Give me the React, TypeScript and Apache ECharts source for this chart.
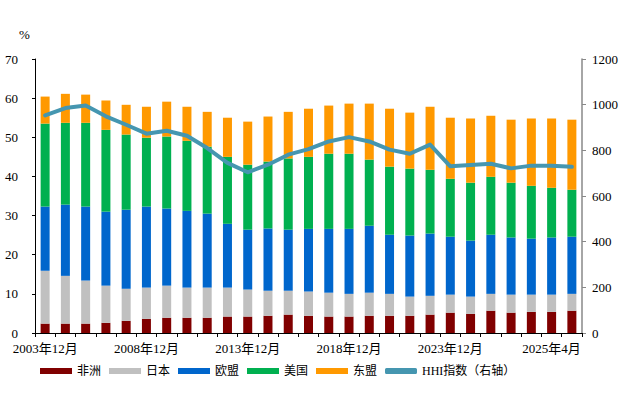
import React, { useEffect, useRef } from "react";
import * as echarts from "echarts";

const categories = [
  "2003年12月", "2004年12月", "2005年12月", "2006年12月", "2007年12月",
  "2008年12月", "2009年12月", "2010年12月", "2011年12月", "2012年12月",
  "2013年12月", "2014年12月", "2015年12月", "2016年12月", "2017年12月",
  "2018年12月", "2019年12月", "2020年12月", "2021年12月", "2022年12月",
  "2023年12月", "2024年12月", "2025年1月", "2025年2月", "2025年3月",
  "2025年4月", "2025年5月",
];

const africa = [2.4, 2.4, 2.4, 2.6, 3.1, 3.6, 3.9, 3.9, 3.9, 4.2, 4.2, 4.4, 4.7, 4.4, 4.2, 4.2, 4.4, 4.4, 4.4, 4.7, 5.2, 4.9, 5.7, 5.2, 5.4, 5.4, 5.7];
const japan = [13.5, 12.2, 11.0, 9.5, 8.2, 8.0, 8.2, 7.7, 7.7, 7.4, 6.9, 6.4, 6.1, 6.2, 6.1, 5.8, 5.9, 5.6, 4.9, 4.8, 4.6, 4.4, 4.3, 4.6, 4.4, 4.4, 4.3];
const eu = [16.4, 18.2, 18.9, 18.9, 20.2, 20.7, 19.7, 19.6, 18.9, 16.3, 15.3, 15.9, 15.6, 16.0, 16.3, 16.6, 17.1, 15.1, 15.6, 15.9, 14.8, 14.3, 15.1, 14.6, 14.3, 14.6, 14.6];
const usa = [21.2, 20.9, 21.4, 20.9, 19.2, 17.6, 18.4, 17.9, 17.1, 17.1, 16.6, 17.1, 18.2, 18.4, 19.2, 19.2, 16.9, 17.4, 17.1, 16.3, 14.8, 14.8, 14.8, 14.0, 13.5, 12.7, 12.0];
const asean = [6.9, 7.4, 7.2, 7.5, 7.6, 7.9, 8.9, 8.7, 8.9, 10.0, 11.0, 11.5, 11.9, 12.3, 12.3, 12.8, 14.3, 14.8, 14.3, 16.1, 15.6, 16.4, 15.6, 16.1, 17.2, 17.7, 17.9];
const hhi = [953, 985, 996, 949, 912, 873, 886, 864, 810, 745, 704, 737, 781, 805, 839, 858, 839, 803, 785, 825, 730, 736, 741, 721, 733, 733, 728];

const leftTicks = [0, 10, 20, 30, 40, 50, 60, 70];
const rightTicks = [0, 200, 400, 600, 800, 1000, 1200];

const FONT = "'Liberation Serif', 'Times New Roman', 'Noto Sans CJK SC', serif";

export default function App() {
  const ref = useRef<HTMLDivElement>(null);
  useEffect(() => {
    if (!ref.current) return;
    const chart = echarts.init(ref.current, null, { renderer: "svg" });
    const barCommon = { type: "bar", stack: "total", barWidth: 9, yAxisIndex: 0 };
    chart.setOption({
      animation: false,
      backgroundColor: "#ffffff",
      textStyle: { fontFamily: FONT },
      grid: { left: 35, right: 42, top: 59, bottom: 65, containLabel: false },
      graphic: [
        { type: "text", left: 19, top: 28, style: { text: "%", fontSize: 13, fontFamily: FONT, fill: "#000" } },
      ],
      legend: {
        bottom: 16,
        left: 35,
        itemWidth: 32,
        itemHeight: 6,
        itemGap: 8,
        textStyle: { fontSize: 12, color: "#000", fontFamily: FONT },
        data: [
          { name: "非洲", icon: "rect" },
          { name: "日本", icon: "rect" },
          { name: "欧盟", icon: "rect" },
          { name: "美国", icon: "rect" },
          { name: "东盟", icon: "rect" },
          { name: "HHI指数（右轴）", icon: "roundRect" },
        ],
      },
      xAxis: {
        type: "category",
        data: categories,
        boundaryGap: true,
        axisLine: { lineStyle: { color: "#000", width: 1 } },
        axisTick: { show: true, interval: 0, length: 4, lineStyle: { color: "#000" } },
        axisLabel: { interval: 4, color: "#000", fontSize: 13, margin: 9, fontFamily: FONT },
      },
      yAxis: [
        {
          type: "value",
          min: leftTicks[0],
          max: leftTicks[leftTicks.length - 1],
          interval: 10,
          splitLine: { show: false },
          axisLine: { show: true, lineStyle: { color: "#000" } },
          axisTick: { show: true, length: 3, lineStyle: { color: "#000" } },
          axisLabel: { color: "#000", fontSize: 13, margin: 17, fontFamily: FONT },
        },
        {
          type: "value",
          min: rightTicks[0],
          max: rightTicks[rightTicks.length - 1],
          interval: 200,
          position: "right",
          splitLine: { show: false },
          axisLine: { show: true, lineStyle: { color: "#888", width: 1.5 } },
          axisTick: { show: true, length: 4, lineStyle: { color: "#888" } },
          axisLabel: {
            color: "#000",
            fontSize: 13,
            margin: 10,
            fontFamily: FONT,
            formatter: (v: number) => String(v),
          },
        },
      ],
      series: [
        { ...barCommon, name: "非洲", data: africa, itemStyle: { color: "#800000" } },
        { ...barCommon, name: "日本", data: japan, itemStyle: { color: "#c0c0c0" } },
        { ...barCommon, name: "欧盟", data: eu, itemStyle: { color: "#0066cc" } },
        { ...barCommon, name: "美国", data: usa, itemStyle: { color: "#00b050" } },
        { ...barCommon, name: "东盟", data: asean, itemStyle: { color: "#ff9900" } },
        {
          type: "line",
          name: "HHI指数（右轴）",
          yAxisIndex: 1,
          data: hhi,
          symbol: "none",
          lineStyle: { color: "#4596b0", width: 4, cap: "round", join: "round" },
          itemStyle: { color: "#4596b0" },
        },
      ],
    });
    return () => chart.dispose();
  }, []);
  return (
    <div
      ref={ref}
      style={{ position: "fixed", left: 0, top: 0, width: 624, height: 398 }}
    />
  );
}
